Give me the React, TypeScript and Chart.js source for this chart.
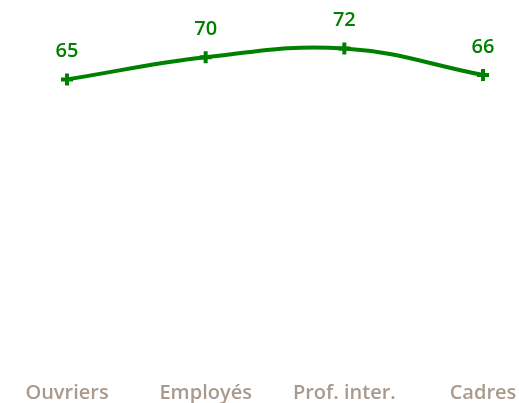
import React, { useEffect, useRef } from "react";
import { Chart, registerables } from "chart.js";

Chart.register(...registerables);

const categories = ["Ouvriers", "Employés", "Prof. inter.", "Cadres"];
const values = [65, 70, 72, 66];

const GREEN = "#008000";
const LABEL_GREY = "#a89a8e";
const FONT = "'Open Sans'";

const dataLabels = {
  id: "dataLabels",
  afterDatasetsDraw(chart: any) {
    const ctx = chart.ctx;
    const meta = chart.getDatasetMeta(0);
    ctx.save();
    ctx.fillStyle = GREEN;
    ctx.font = `600 20px ${FONT}`;
    ctx.textAlign = "center";
    ctx.textBaseline = "alphabetic";
    meta.data.forEach((pt: any, i: number) => {
      ctx.fillText(String(values[i]), pt.x, pt.y - 22);
    });
    ctx.restore();
  },
};

export default function App() {
  const ref = useRef<HTMLCanvasElement | null>(null);
  useEffect(() => {
    if (!ref.current) return;
    const chart = new Chart(ref.current, {
      type: "line",
      data: {
        labels: categories,
        datasets: [
          {
            data: values,
            borderColor: GREEN,
            backgroundColor: GREEN,
            borderWidth: 4,
            tension: 0.4,
            pointStyle: "cross",
            pointRadius: 6,
            pointBorderWidth: 4,
            pointBorderColor: GREEN,
            pointBackgroundColor: GREEN,
            clip: false as any,
          },
        ],
      },
      options: {
        animation: false,
        responsive: true,
        maintainAspectRatio: false,
        layout: { padding: { left: 67, right: 36, top: 13, bottom: 0 } },
        plugins: { legend: { display: false }, tooltip: { enabled: false } },
        scales: {
          x: {
            offset: false,
            grid: { display: false, drawTicks: false },
            border: { display: false },
            afterFit(scale: any) {
              scale.height = 35.7;
              scale.paddingLeft = 0;
              scale.paddingRight = 0;
            },
            ticks: {
              color: LABEL_GREY,
              font: { family: "Open Sans", size: 20, weight: 600 },
              padding: 14,
              maxRotation: 0,
              autoSkip: false,
            },
          },
          y: {
            display: false,
            min: 0,
            max: 80,
          },
        },
      },
      plugins: [dataLabels],
    });
    return () => chart.destroy();
  }, []);
  return (
    <div style={{ position: "fixed", left: 0, top: 0, width: 519, height: 403 }}>
      <canvas ref={ref} />
    </div>
  );
}
